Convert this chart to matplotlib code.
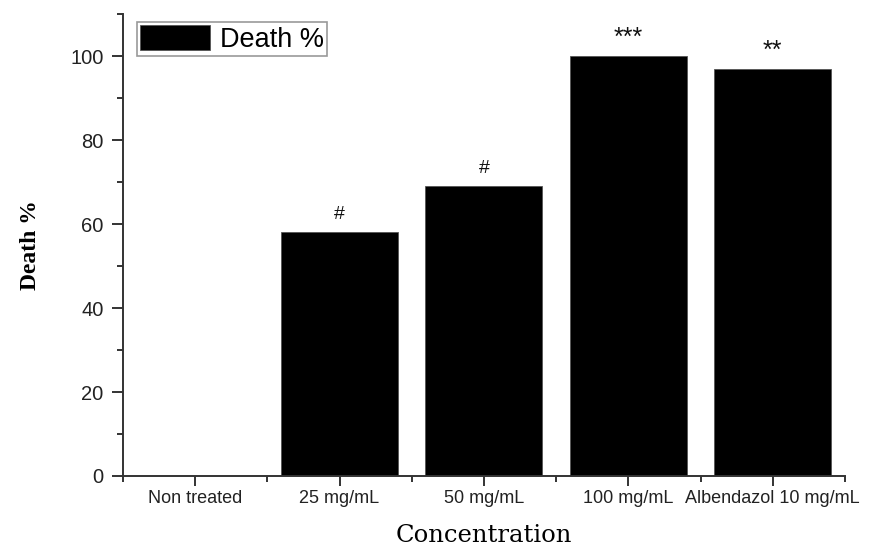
import matplotlib
matplotlib.use("Agg")
import matplotlib.pyplot as plt
from matplotlib.ticker import MultipleLocator, FixedLocator
import numpy as np

# data
categories = ["Non treated", "25 mg/mL", "50 mg/mL", "100 mg/mL", "Albendazol 10 mg/mL"]
death_pct = [0, 58, 69, 100, 97]
marks = ["", "#", "#", "***", "**"]

fig = plt.figure(figsize=(8.69, 5.47), dpi=100)
ax = fig.add_axes([0.1415, 0.1298, 0.8308, 0.8446])

x = np.arange(len(categories))
ax.bar(x, death_pct, width=0.81, color="black", edgecolor="#555555",
       linewidth=0.6, label="Death %", zorder=2)

# significance marks above the bars
for xi, v, m in zip(x, death_pct, marks):
    if not m:
        continue
    if m == "#":
        ax.annotate(m, (xi, v), xytext=(0, 9.5), textcoords="offset points",
                    ha="center", va="baseline", fontsize=14,
                    family="Liberation Sans", color="#111111")
    else:
        ax.annotate(m, (xi, v), xytext=(0, 8), textcoords="offset points",
                    ha="center", va="baseline", fontsize=18,
                    family="Liberation Sans", color="#111111")

ax.set_xlim(-0.5, len(categories) - 0.5)
ax.set_ylim(0, 110)

for s in ["top", "right"]:
    ax.spines[s].set_visible(False)
for s in ["left", "bottom"]:
    ax.spines[s].set_color("#333333")
    ax.spines[s].set_linewidth(1.4)

ax.set_xticks(x)
ax.set_xticklabels(categories, family="Liberation Sans", fontsize=13, color="#222222")
ax.xaxis.set_minor_locator(FixedLocator(np.arange(-0.5, len(categories), 1.0)))
ax.yaxis.set_major_locator(MultipleLocator(20))
ax.yaxis.set_minor_locator(MultipleLocator(10))
for lbl in ax.get_yticklabels():
    lbl.set_family("Liberation Sans")
ax.tick_params(axis="y", which="major", direction="out", length=8, width=1.4,
               color="#333333", labelsize=14.5, labelcolor="#222222", pad=6)
ax.tick_params(axis="x", which="major", direction="out", length=7, width=1.4,
               color="#333333", labelcolor="#222222", pad=3)
ax.tick_params(which="minor", direction="out", length=4, width=1.4, color="#333333")

ax.set_ylabel("Death %", family="Liberation Serif", fontweight="bold",
              fontsize=17, labelpad=21)
ax.set_xlabel("Concentration", family="DejaVu Serif", fontsize=17.5, labelpad=12)

leg = ax.legend(loc="upper left", bbox_to_anchor=(0.019, 0.983),
                prop={"family": "Liberation Sans", "size": 19.5},
                handlelength=2.6, handleheight=1.05, handletextpad=0.35,
                borderpad=0.12, borderaxespad=0, fancybox=False,
                edgecolor="#999999", framealpha=1)
leg.get_frame().set_linewidth(1.2)

fig.savefig("out.png", dpi=100)
